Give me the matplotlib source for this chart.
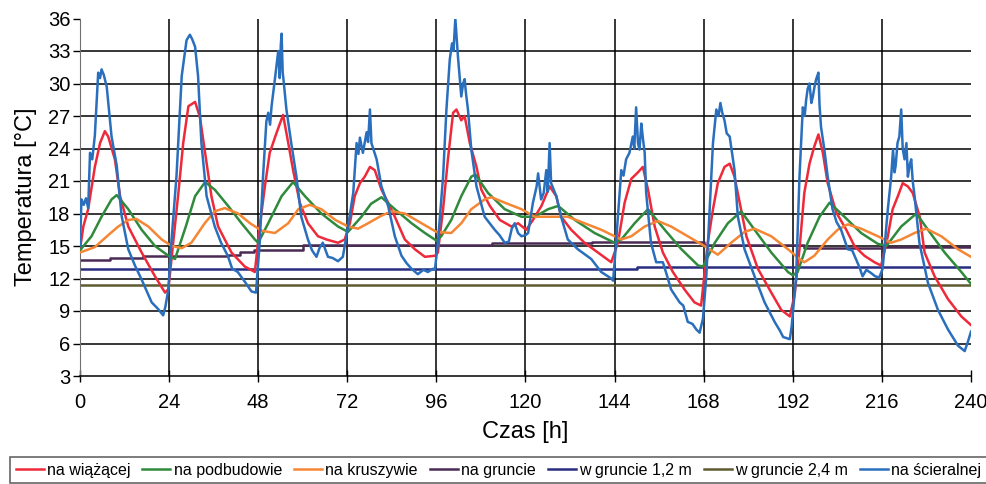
import numpy as np
import matplotlib.pyplot as plt

plt.rcParams['font.family'] = ['Liberation Sans', 'DejaVu Sans']

# czas [h] i temperatura [°C] dla kazdej warstwy
t_scier = [0, 0.4, 1.0, 1.6, 2.2, 2.7, 3.3, 4.0, 4.5, 4.9, 5.4, 5.8, 6.4, 7.2, 8.5, 9.9, 11.2, 13.0,
           14.8, 16.6, 18.0, 19.3, 21.0, 22.4, 23.0, 23.8, 24.6, 26.0, 27.4, 28.7, 29.6, 30.2, 31.0,
           31.8, 32.7, 34.1, 36.3, 38.0, 39.8, 41.0, 42.5, 44.4, 46.2, 47.4, 47.8, 48.4, 49.3, 50.2,
           50.7, 51.2, 51.6, 52.5, 53.4, 53.8, 54.1, 54.3, 54.6, 54.8, 55.6, 56.9, 58.3, 59.6, 61.4,
           62.5, 63.7, 64.5, 65.4, 66.8, 68.0, 69.5, 70.8, 72.2, 73.6, 74.5, 75.0, 75.4, 76.2, 77.2,
           77.6, 78.1, 78.5, 79.9, 81.2, 83.0, 84.8, 86.6, 88.0, 89.3, 91.0, 92.5, 93.7, 95.1, 95.6,
           96.4, 97.8, 98.7, 99.6, 100.2, 100.6, 101.1, 101.5, 101.8, 102.7, 103.2, 103.6, 104.0,
           104.5, 105.4, 106.8, 109.0, 111.7, 113.0, 114.4, 115.5, 116.3, 117.1, 118.0, 118.9, 120.0,
           120.7, 122.0, 123.0, 123.4, 124.2, 124.9, 125.6, 126.0, 126.5, 126.9, 128.3, 129.6, 131.4,
           134.1, 137.7, 140.4, 143.1, 143.6, 144.0, 144.9, 145.8, 146.4, 147.1, 148.0, 148.9, 149.3,
           149.8, 150.3, 150.7, 151.2, 151.6, 152.1, 152.5, 153.8, 155.2, 157.0, 158.0, 159.2, 161.5,
           162.5, 163.7, 165.0, 166.0, 166.9, 167.8, 168.7, 169.6, 170.5, 171.4, 172.0, 172.5, 173.0,
           173.6, 174.2, 175.0, 176.3, 177.2, 179.0, 181.7, 184.4, 187.1, 188.5, 189.4, 191.2, 191.7,
           192.9, 193.8, 194.7, 195.2, 195.6, 196.0, 196.5, 197.0, 197.4, 197.9, 198.3, 198.9, 199.2,
           199.6, 200.5, 201.4, 202.7, 203.8, 205.0, 206.8, 208.0, 209.0, 210.0, 210.8, 211.8, 213.1,
           214.2, 215.3, 216.2, 217.6, 218.5, 219.0, 219.4, 219.7, 220.2, 220.7, 221.2, 221.6, 222.1,
           222.6, 223.0, 223.5, 223.9, 224.3, 224.8, 226.1, 228.4, 231.1, 233.8, 236.5, 238.3, 239.2,
           240.0]
T_scier = [15.0, 19.3, 18.8, 19.4, 18.5, 23.6, 23.0, 25.2, 28.5, 31.0, 30.5, 31.3, 30.8, 29.7, 25.1,
           22.4, 17.8, 14.7, 13.2, 11.9, 10.8, 9.8, 9.2, 8.6, 9.4, 11.0, 15.3, 21.5, 30.7, 34.0, 34.5,
           34.1, 33.4, 30.7, 24.5, 19.6, 16.8, 15.3, 14.1, 12.9, 12.6, 11.7, 10.8, 10.7, 12.5, 15.3,
           21.4, 26.5, 27.3, 26.2, 27.9, 30.4, 33.0, 30.5, 33.6, 34.6, 31.0, 30.4, 27.6, 24.5, 21.4,
           17.7, 15.6, 14.6, 14.0, 14.8, 15.3, 14.0, 13.9, 13.6, 14.0, 16.8, 19.9, 24.5, 23.5, 25.0,
           23.6, 25.5, 24.6, 27.6, 24.5, 23.0, 20.5, 18.7, 15.9, 14.1, 13.4, 12.9, 12.4, 12.8, 12.6,
           12.9, 12.8, 15.3, 21.4, 27.6, 32.2, 33.7, 33.0, 36.0, 34.0, 32.5, 28.8, 30.0, 30.4, 29.0,
           27.6, 23.9, 20.5, 17.7, 16.5, 16.0, 15.3, 15.4, 16.6, 17.1, 16.2, 15.9, 16.0, 16.2, 19.0,
           20.5, 21.7, 19.3, 19.9, 22.0, 20.0, 24.5, 20.8, 19.6, 17.7, 15.6, 14.7, 13.8, 12.6, 12.0,
           11.8, 13.5, 17.7, 22.0, 21.5, 23.0, 23.6, 25.1, 24.0, 27.8, 24.5, 23.9, 26.3, 25.0, 23.6,
           19.9, 15.3, 13.5, 13.5, 12.4, 11.0, 9.8, 9.5, 8.0, 7.8, 7.3, 7.0, 8.3, 12.2, 18.4, 24.5,
           27.6, 27.0, 28.2, 27.3, 26.6, 25.4, 25.1, 22.0, 17.7, 14.7, 12.2, 9.8, 8.0, 7.2, 6.6, 6.4,
           7.6, 12.2, 21.4, 27.8, 27.0, 28.5, 29.5, 30.0, 28.2, 28.8, 29.8, 30.4, 31.0, 28.0, 26.0,
           23.9, 21.4, 18.4, 17.2, 16.5, 14.7, 14.6, 13.8, 13.0, 12.2, 12.8, 12.5, 12.2, 12.1, 12.9,
           18.4, 21.4, 23.9, 21.8, 22.4, 24.5, 25.1, 27.6, 24.0, 23.0, 24.5, 21.4, 22.5, 23.0, 21.0,
           19.6, 15.3, 11.6, 9.1, 7.3, 5.8, 5.3, 6.2, 7.1]

t_wiaz = [0, 0.9, 2.2, 4.0, 5.4, 6.7, 7.6, 9.4, 10.8, 13.0, 16.6, 20.2, 22.9, 23.8, 25.1, 26.5, 27.8,
          29.2, 31.0, 32.3, 33.7, 35.4, 37.2, 40.8, 44.4, 47.1, 48.4, 49.8, 51.1, 52.9, 54.7, 56.1,
          57.4, 59.2, 61.4, 64.1, 66.4, 69.5, 71.3, 72.7, 74.0, 75.4, 76.7, 78.1, 79.4, 81.2, 83.0,
          84.8, 87.5, 90.2, 92.9, 95.6, 96.4, 97.8, 99.1, 100.5, 101.4, 102.7, 103.6, 105.0, 106.8,
          108.1, 110.4, 113.1, 116.2, 118.0, 120.2, 122.0, 124.3, 126.5, 128.3, 129.6, 132.3, 135.9,
          139.5, 143.1, 144.9, 146.7, 148.5, 150.3, 151.6, 153.0, 154.8, 157.0, 159.7, 162.8, 165.5,
          167.3, 169.1, 170.5, 171.8, 173.6, 175.0, 176.3, 177.7, 179.5, 182.6, 186.2, 188.9, 191.2,
          192.5, 193.8, 195.1, 196.5, 197.8, 198.9, 200.1, 201.4, 203.7, 206.4, 208.6, 211.3, 214.0,
          215.8, 217.6, 218.9, 220.3, 221.6, 223.0, 224.3, 226.2, 227.5, 230.2, 233.8, 237.4, 240.0]
T_wiaz = [14.7, 16.8, 18.4, 22.3, 24.5, 25.6, 25.1, 23.0, 19.6, 16.8, 14.4, 12.2, 10.7, 11.0, 15.3,
          19.9, 24.5, 27.9, 28.3, 26.9, 23.6, 19.6, 16.8, 14.4, 13.1, 12.6, 16.8, 20.5, 23.6, 25.4,
          27.1, 24.5, 22.0, 19.0, 17.1, 15.9, 15.6, 15.3, 15.6, 17.1, 19.6, 20.8, 21.4, 22.3, 22.0,
          20.2, 19.0, 17.7, 15.6, 14.7, 14.0, 14.1, 14.4, 18.4, 23.0, 27.3, 27.6, 26.6, 27.0, 24.5,
          22.3, 20.2, 18.7, 17.4, 16.8, 17.1, 16.5, 17.4, 18.7, 20.5, 19.6, 17.7, 16.5, 15.3, 14.4,
          13.5, 15.3, 19.0, 21.2, 21.8, 22.3, 20.2, 16.8, 14.4, 12.6, 11.0, 9.8, 9.5, 15.3, 18.4,
          20.8, 22.3, 22.6, 21.4, 19.0, 15.9, 12.9, 10.7, 9.1, 8.5, 10.5, 14.7, 19.9, 22.6, 24.2,
          25.3, 23.6, 20.8, 18.1, 16.5, 15.0, 14.1, 13.5, 13.2, 15.9, 18.4, 19.6, 20.8, 20.5, 19.9,
          17.7, 14.4, 12.2, 10.1, 8.5, 7.7]

t_podb = [0, 3.1, 5.8, 8.5, 9.9, 13.0, 16.6, 20.2, 23.8, 25.6, 28.5, 31.0, 33.7, 36.3, 39.9, 43.5,
          47.1, 48.0, 50.7, 54.3, 57.4, 60.6, 65.0, 69.5, 72.2, 75.8, 78.4, 81.2, 84.8, 89.3, 92.9,
          96.0, 97.3, 100.0, 102.7, 105.4, 106.5, 109.9, 114.4, 118.9, 122.5, 126.1, 128.8, 133.3,
          138.6, 144.0, 145.8, 149.4, 153.0, 157.5, 162.0, 166.5, 167.8, 171.0, 174.5, 178.1, 181.7,
          186.2, 190.7, 192.0, 193.3, 196.0, 199.2, 201.9, 205.9, 210.4, 214.9, 217.2, 221.2, 225.3,
          228.4, 232.9, 237.4, 240.0]
T_podb = [14.6, 15.9, 17.7, 19.3, 19.7, 18.4, 16.5, 15.0, 14.1, 13.8, 16.8, 19.6, 20.9, 20.2, 18.7,
          17.1, 15.6, 15.3, 17.1, 19.6, 20.9, 19.6, 18.0, 16.8, 16.3, 17.7, 18.9, 19.5, 18.4, 17.1,
          16.2, 15.5, 15.9, 17.4, 19.6, 21.4, 21.6, 19.9, 18.4, 17.7, 17.7, 18.4, 18.7, 17.4, 16.2,
          15.3, 15.6, 17.1, 18.4, 16.5, 14.7, 13.2, 13.1, 15.3, 17.1, 18.2, 16.5, 14.4, 12.6, 12.3,
          12.6, 15.3, 17.7, 19.0, 17.7, 16.2, 15.2, 15.0, 16.8, 18.0, 16.5, 14.4, 12.6, 11.5]

t_krusz = [0, 4.0, 7.6, 10.3, 13.0, 15.2, 18.4, 22.0, 24.7, 27.4, 30.0, 33.6, 36.3, 39.0, 42.6, 45.8,
           49.0, 52.5, 56.1, 58.8, 61.9, 65.0, 68.8, 72.2, 74.9, 77.6, 81.2, 83.9, 87.5, 92.0, 96.0,
           100.0, 102.7, 105.4, 109.0, 110.8, 114.4, 118.9, 122.5, 127.0, 131.4, 135.9, 140.4, 144.0,
           145.8, 148.5, 152.1, 155.7, 159.2, 163.7, 168.2, 171.8, 175.4, 179.0, 181.7, 186.2, 190.7,
           193.8, 195.1, 197.8, 201.4, 204.1, 206.8, 210.4, 214.9, 218.5, 221.2, 224.8, 227.9, 232.0,
           236.5, 240.0]
T_krusz = [14.4, 14.9, 16.0, 16.8, 17.4, 17.5, 16.8, 15.6, 15.0, 14.8, 15.3, 17.1, 18.2, 18.5, 18.0,
           17.1, 16.4, 16.2, 17.1, 18.4, 18.8, 18.4, 17.4, 16.8, 16.6, 17.1, 17.8, 18.2, 18.0, 17.1,
           16.3, 16.2, 17.1, 18.4, 19.3, 19.5, 19.0, 18.4, 17.7, 17.7, 17.7, 17.1, 16.5, 15.9, 15.6,
           15.9, 16.8, 17.3, 16.8, 15.9, 15.0, 14.2, 15.3, 16.3, 16.6, 15.9, 14.7, 13.8, 13.5, 14.1,
           15.6, 16.5, 17.0, 16.6, 15.9, 15.3, 15.6, 16.2, 16.6, 15.9, 14.7, 14.0]

t_grunt = [0, 8, 17, 40, 43, 47, 60, 111, 138, 168, 195, 216, 240]
T_grunt = [13.7, 13.85, 14.05, 14.2, 14.45, 14.65, 15.1, 15.3, 15.4, 15.05, 14.8, 14.9, 14.9]

t_g12 = [0, 150, 240]
T_g12 = [12.9, 13.05, 13.05]

t_g24 = [0, 240]
T_g24 = [11.4, 11.4]

x_ticks = np.arange(0, 241, 24)
y_ticks = np.arange(3, 37, 3)

fig = plt.figure(figsize=(9.87, 4.84), dpi=100)
ax = fig.add_axes([80/987, 1 - 376/484, 891/987, 357.5/484])

# siatka: bez linii na 36 i na 240
for y in y_ticks[1:-1]:
    ax.axhline(y, color='black', lw=1.1, zorder=1)
for x in x_ticks[1:-1]:
    ax.axvline(x, color='black', lw=1.1, zorder=1)

lw = 1.8
ax.plot(t_wiaz, T_wiaz, color='#ee2a3a', lw=lw, label='na wiążącej', zorder=3)
ax.plot(t_podb, T_podb, color='#2f8a3c', lw=lw, label='na podbudowie', zorder=3)
ax.plot(t_krusz, T_krusz, color='#f58634', lw=lw, label='na kruszywie', zorder=3)
ax.step(t_grunt, T_grunt, where='post', color='#4a2a55', lw=lw, label='na gruncie', zorder=2)
ax.plot(t_g12, T_g12, color='#282d80', lw=lw, label='w gruncie 1,2 m', drawstyle='steps-post', zorder=2)
ax.plot(t_g24, T_g24, color='#5e5a32', lw=lw, label='w gruncie 2,4 m', zorder=2)
ax.plot(t_scier, T_scier, color='#2a6fbd', lw=lw, label='na ścieralnej', zorder=4)

ax.set_xlim(0, 240)
ax.set_ylim(3, 36)
ax.set_xticks(x_ticks)
ax.set_yticks(y_ticks)
ax.tick_params(axis='x', direction='inout', length=8, width=1, labelsize=14.5, pad=8, colors='black')
ax.tick_params(axis='y', direction='out', length=5, width=1, labelsize=14.5, pad=2)
ax.spines['top'].set_visible(False)
ax.spines['right'].set_visible(False)
ax.spines['left'].set_color('#707070')
ax.spines['bottom'].set_color('black')
ax.spines['bottom'].set_linewidth(1.1)

ax.set_xlabel('Czas [h]', fontsize=17, labelpad=7)
ax.set_ylabel('Temperatura [°C]', fontsize=17, labelpad=8)

leg = fig.legend(loc='upper left', bbox_to_anchor=(10/987, -4/484, 977/987, 31/484),
                 mode='expand', ncol=7, fontsize=11.5, handlelength=1.75, handletextpad=0.2,
                 columnspacing=0.6, borderaxespad=0, frameon=True, fancybox=False,
                 borderpad=0.35)
leg.get_frame().set_edgecolor('#404040')
leg.get_frame().set_linewidth(1.2)

fig.savefig('out.png', dpi=100)
